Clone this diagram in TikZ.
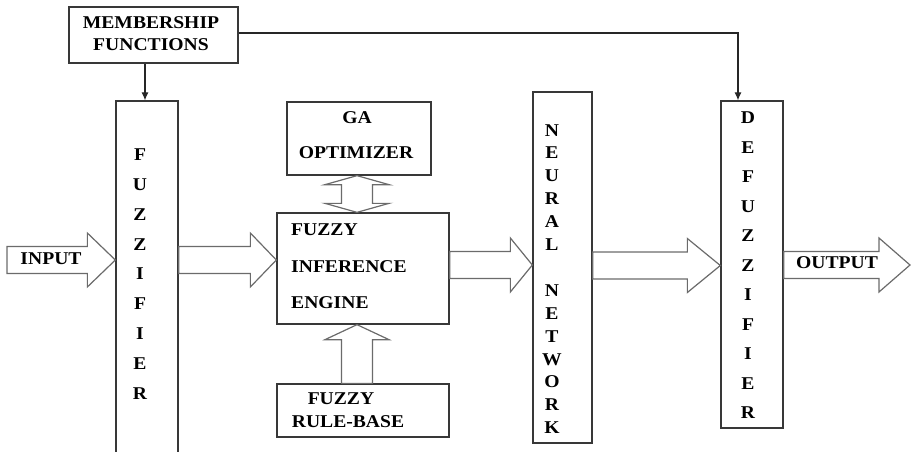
\documentclass[tikz,border=0pt]{standalone}
\usepackage{fontspec}
\setmainfont{Liberation Serif}[FakeStretch=1.09]
\usetikzlibrary{calc,arrows.meta}
\tikzset{
  box/.style={draw=black!78, line width=1.3pt, rectangle, inner sep=0pt},
  blk/.style={draw=black!58, line width=1.2pt, fill=white, line join=miter},
  conn/.style={draw=black!85, line width=1.1pt, -{Latex[length=8pt,width=7pt]}},
  txt/.style={font=\fontsize{18}{21}\selectfont\bfseries, inner sep=0pt, text=black}
}
\newcommand\hblk[3]{%
  \draw[blk] let \p1=(#1), \p2=(#2) in
    (\x1,\y2+13.5pt) -- (\x2-#3,\y2+13.5pt) -- (\x2-#3,\y2+27pt) -- (\x2,\y2)
    -- (\x2-#3,\y2-27pt) -- (\x2-#3,\y2-13.5pt) -- (\x1,\y2-13.5pt) -- cycle;}
\begin{document}
\begin{tikzpicture}[x=1pt,y=-1pt]
\useasboundingbox (0,0) rectangle (911,452);
% boxes
\node[box, minimum width=169pt, minimum height=56pt] (mf) at (153.5,35) {};
\node[box, minimum width=62pt, minimum height=380pt] (fuz) at (147,291) {};
\node[box, minimum width=172pt, minimum height=111pt] (fie) at (363,268.5) {};
\node[box, minimum width=144pt, minimum height=73pt] (ga) at (359,138.5) {};
\node[box, minimum width=172pt, minimum height=53pt] (rb) at (363,410.5) {};
\node[box, minimum width=59pt, minimum height=351pt] (nn) at (562.5,267.5) {};
\node[box, minimum width=62pt, minimum height=327pt] (def) at (752,264.5) {};
% texts
\node[txt, align=center] (mft) at (151,34) {MEMBERSHIP\\[1pt]FUNCTIONS};
\node[txt, align=center, font=\fontsize{18}{29.8}\selectfont\bfseries] (fuzt) at (140,274)
  {F\\U\\Z\\Z\\I\\F\\I\\E\\R};
\node[txt, align=left, anchor=west, font=\fontsize{18}{36.5}\selectfont\bfseries] (fiet) at (291,266.5)
  {FUZZY\\INFERENCE\\ENGINE};
\node[txt] (gat1) at (357,118) {GA};
\node[txt] (gat2) at (356,153) {OPTIMIZER};
\node[txt] (rbt1) at (341,399) {FUZZY};
\node[txt] (rbt2) at (348,422) {RULE-BASE};
\node[txt, align=center, font=\fontsize{18}{22.9}\selectfont\bfseries] (nnt) at (552,279)
  {N\\E\\U\\R\\A\\L\\[22.9pt]N\\E\\T\\W\\O\\R\\K};
\node[txt, align=center, font=\fontsize{18}{29.5}\selectfont\bfseries] (deft) at (748,265.5)
  {D\\E\\F\\U\\Z\\Z\\I\\F\\I\\E\\R};
% block arrows
\coordinate (inl) at (7,260);
\coordinate (outr) at (910,265);
\hblk{inl}{fuz.west |- 0,260}{28pt}
\hblk{fuz.east |- 0,260}{fie.west |- 0,260}{26pt}
\hblk{fie.east |- 0,265}{nn.west |- 0,265}{22pt}
\hblk{nn.east |- 0,265.5}{def.west |- 0,265.5}{33pt}
\hblk{def.east |- 0,265}{outr}{31pt}
\node[txt] (int) at (51,259) {INPUT};
\node[txt] (outt) at (837,263) {OUTPUT};
% GA <-> FIE double arrow
\draw[blk] let \p1=(ga.south -| 357,0), \p2=(fie.north -| 357,0) in
  (\x1,\y1) -- (\x1+32pt,\y1-9pt) -- (\x1+15.5pt,\y1-9pt) -- (\x1+15.5pt,\y2+9pt)
  -- (\x1+32pt,\y2+9pt) -- (\x1,\y2) -- (\x1-32pt,\y2+9pt) -- (\x1-15.5pt,\y2+9pt)
  -- (\x1-15.5pt,\y1-9pt) -- (\x1-32pt,\y1-9pt) -- cycle;
% RB -> FIE arrow
\draw[blk] let \p1=(fie.south -| 357,0), \p2=(rb.north -| 357,0) in
  (\x1,\y1) -- (\x1+32pt,\y1-15pt) -- (\x1+15.5pt,\y1-15pt) -- (\x1+15.5pt,\y2)
  -- (\x1-15.5pt,\y2) -- (\x1-15.5pt,\y1-15pt) -- (\x1-32pt,\y1-15pt) -- cycle;
% connectors
\draw[conn] (mf.south -| 145,0) -- (fuz.north -| 145,0);
\draw[conn] (mf.east |- 0,33) -| (def.north -| 738,0);
\end{tikzpicture}
\end{document}
